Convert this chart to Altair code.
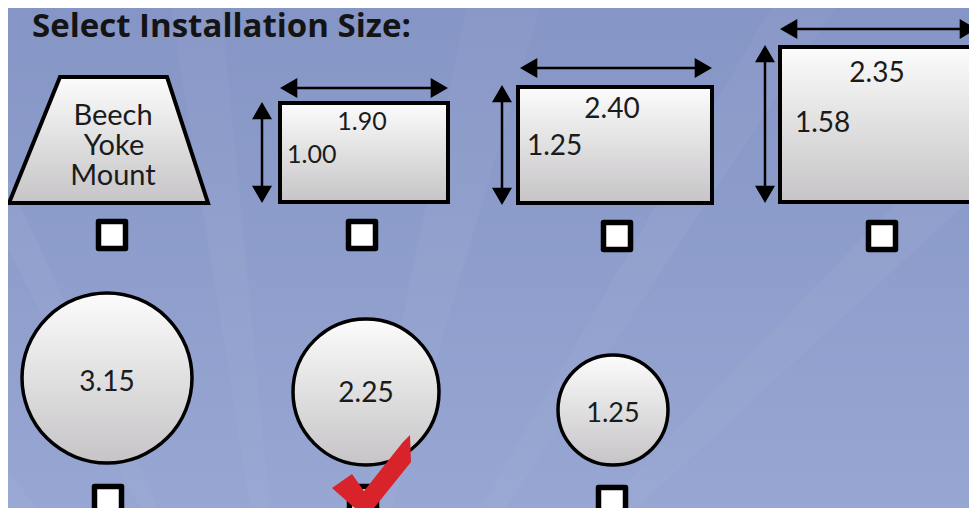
import altair as alt
import pandas as pd

# ---------------- content ----------------
TITLE = "Select Installation Size:"
yoke_lines = ["Beech", "Yoke", "Mount"]
rect_width_labels = ["1.90", "2.40", "2.35"]
rect_height_labels = ["1.00", "1.25", "1.58"]
circle_labels = ["3.15", "2.25", "1.25"]
box_selected = [False, False, False, False, False, True, False]

# ---------------- layout (picture pixel space) ----------------
W_DOM = [8, 969]
H_DOM = [8, 508]

rect_x0 = [280, 518, 780]
rect_x1 = [448, 712, 994]
rect_y0 = [103, 87, 47]
rect_y1 = [202, 203, 202]

harrow_y = [88, 68, 29]
harrow_x0 = [280, 520, 780]
harrow_x1 = [448, 712, 977]
varrow_x = [262, 502, 765]
varrow_y0 = [102, 85, 45]
varrow_y1 = [203, 205, 203]

wlab_x = [362, 612, 877]
wlab_y = [130, 118, 82]
wlab_size = [25, 28, 28]
hlab_x = [287, 527, 795]
hlab_y = [163, 155, 132]
hlab_size = [25, 28, 28]

circ_cx = [107, 366, 613]
circ_cy = [378, 392, 410]
circ_r = [85, 73, 55]
circ_lab_y = [391, 402, 422]
circ_lab_size = [28, 28, 27]

yoke_x = [113, 114, 113]
yoke_y = [125, 155, 185]

box_x = [112, 362, 617, 882, 108, 363, 612]
box_y = [235, 235, 236, 236, 500, 500, 501]

trap_pts = [[60, 77], [167, 77], [208, 203], [9, 203]]
check_pts = [[332, 488], [352, 474], [364, 491], [403, 442], [410, 435], [411, 462], [366, 518]]
ray_center = [300, 820]
ray_tops = [[-520, -440], [-150, -100], [160, 215], [480, 560], [810, 880], [1150, 1250]]

# ---------------- helpers ----------------
X = alt.Scale(domain=W_DOM, nice=False, zero=False)
Y = alt.Scale(domain=H_DOM, nice=False, zero=False, reverse=True)
PROJ = dict(type="identity", scale=1, translate=[-W_DOM[0], -H_DOM[0]])

def xe(f="x"):
    return alt.X(f"{f}:Q", scale=X, axis=None)

def ye(f="y"):
    return alt.Y(f"{f}:Q", scale=Y, axis=None)

shape_grad = alt.LinearGradient(
    gradient="linear", x1=0, y1=0, x2=0, y2=1,
    stops=[alt.GradientStop(offset=0, color="#fcfcfc"),
           alt.GradientStop(offset=1, color="#c6c4c6")])
bg_grad = alt.LinearGradient(
    gradient="linear", x1=0, y1=0, x2=0, y2=1,
    stops=[alt.GradientStop(offset=0, color="#8595c5"),
           alt.GradientStop(offset=1, color="#97a6d2")])

def poly(pts):
    ring = [list(p) for p in pts] + [list(pts[0])]
    return {"type": "Feature", "properties": {}, "geometry": {"type": "Polygon", "coordinates": [ring]}}

# ---------------- layers ----------------
bg = alt.Chart(pd.DataFrame({"a": [0]})).mark_rect(fill=bg_grad).encode(
    x=alt.value(0), x2=alt.value(W_DOM[1] - W_DOM[0]),
    y=alt.value(0), y2=alt.value(H_DOM[1] - H_DOM[0]))

rays = alt.Chart(alt.Data(values=[poly([ray_center, [a, -60], [b, -60]]) for a, b in ray_tops])).mark_geoshape(
    fill="white", fillOpacity=0.035, strokeWidth=0).project(**PROJ)

trap = alt.Chart(alt.Data(values=[poly(trap_pts)])).mark_geoshape(
    fill=shape_grad, stroke="black", strokeWidth=4, strokeJoin="miter").project(**PROJ)

rect_df = pd.DataFrame({"x": rect_x0, "x2": rect_x1, "y": rect_y0, "y2": rect_y1})
rects = alt.Chart(rect_df).mark_rect(fill=shape_grad, stroke="black", strokeWidth=4).encode(
    x=xe(), x2="x2:Q", y=ye(), y2="y2:Q")

circ_df = pd.DataFrame({"x": circ_cx, "y": circ_cy, "r": circ_r})
circles = alt.Chart(circ_df).transform_calculate(s="4 * datum.r * datum.r").mark_point(
    shape="circle", filled=True, fill=shape_grad, stroke="black", strokeWidth=3.5, opacity=1,
    fillOpacity=1, strokeOpacity=1).encode(x=xe(), y=ye(), size=alt.Size("s:Q", scale=None, legend=None))

# arrows
shaft_rows = []
head_rows = []
HEAD = 20.0
OFF = 0.433 * HEAD
for i in range(3):
    shaft_rows.append({"x": harrow_x0[i] + 6, "x2": harrow_x1[i] - 6, "y": harrow_y[i], "y2": harrow_y[i]})
    shaft_rows.append({"x": varrow_x[i], "x2": varrow_x[i], "y": varrow_y0[i] + 6, "y2": varrow_y1[i] - 6})
    head_rows += [
        {"x": harrow_x0[i] + OFF, "y": harrow_y[i], "shape": "triangle-left"},
        {"x": harrow_x1[i] - OFF, "y": harrow_y[i], "shape": "triangle-right"},
        {"x": varrow_x[i], "y": varrow_y0[i] + OFF, "shape": "triangle-up"},
        {"x": varrow_x[i], "y": varrow_y1[i] - OFF, "shape": "triangle-down"},
    ]
shafts = alt.Chart(pd.DataFrame(shaft_rows)).mark_rule(color="black", strokeWidth=2.5).encode(
    x=xe(), x2="x2:Q", y=ye(), y2="y2:Q")
heads = alt.Chart(pd.DataFrame(head_rows)).mark_point(
    filled=True, color="black", opacity=1, size=HEAD * HEAD).encode(
    x=xe(), y=ye(), shape=alt.Shape("shape:N", scale=None, legend=None))

# texts
center_text = pd.DataFrame({
    "x": yoke_x + wlab_x + circ_cx,
    "y": yoke_y + wlab_y + circ_lab_y,
    "t": yoke_lines + rect_width_labels + circle_labels,
    "fs": [29, 29, 29] + wlab_size + circ_lab_size,
})
left_text = pd.DataFrame({"x": hlab_x, "y": hlab_y, "t": rect_height_labels, "fs": hlab_size})

txt_c = alt.Chart(center_text).mark_text(font="Lato", align="center", baseline="alphabetic", color="#1b1b1b").encode(
    x=xe(), y=ye(), text="t:N", size=alt.Size("fs:Q", scale=None, legend=None))
txt_l = alt.Chart(left_text).mark_text(font="Lato", align="left", baseline="alphabetic", color="#1b1b1b").encode(
    x=xe(), y=ye(), text="t:N", size=alt.Size("fs:Q", scale=None, legend=None))
title = alt.Chart(pd.DataFrame({"x": [32], "y": [37], "t": [TITLE]})).mark_text(
    font="Open Sans", fontWeight="bold", fontSize=33, align="left", baseline="alphabetic", color="#141414").encode(
    x=xe(), y=ye(), text="t:N")

box_df = pd.DataFrame({"x": box_x, "y": box_y, "sel": box_selected})
boxes = alt.Chart(box_df).mark_point(
    shape="square", filled=True, fill="white", stroke="black", strokeWidth=5.5, strokeJoin="round",
    size=27 * 27, opacity=1, fillOpacity=1, strokeOpacity=1).encode(x=xe(), y=ye())

check = alt.Chart(alt.Data(values=[poly(check_pts)])).mark_geoshape(
    fill="#d8232a", strokeWidth=0).project(**PROJ)

chart = alt.layer(bg, rays, trap, rects, circles, shafts, heads, txt_c, txt_l, title, boxes, check).properties(
    width=W_DOM[1] - W_DOM[0], height=H_DOM[1] - H_DOM[0],
    autosize=alt.AutoSizeParams(type="none"), padding=0,
).configure_view(stroke=None).configure(background="#8a9ac9")

chart.save("out.html", embed_options={"renderer": "svg", "actions": False})
